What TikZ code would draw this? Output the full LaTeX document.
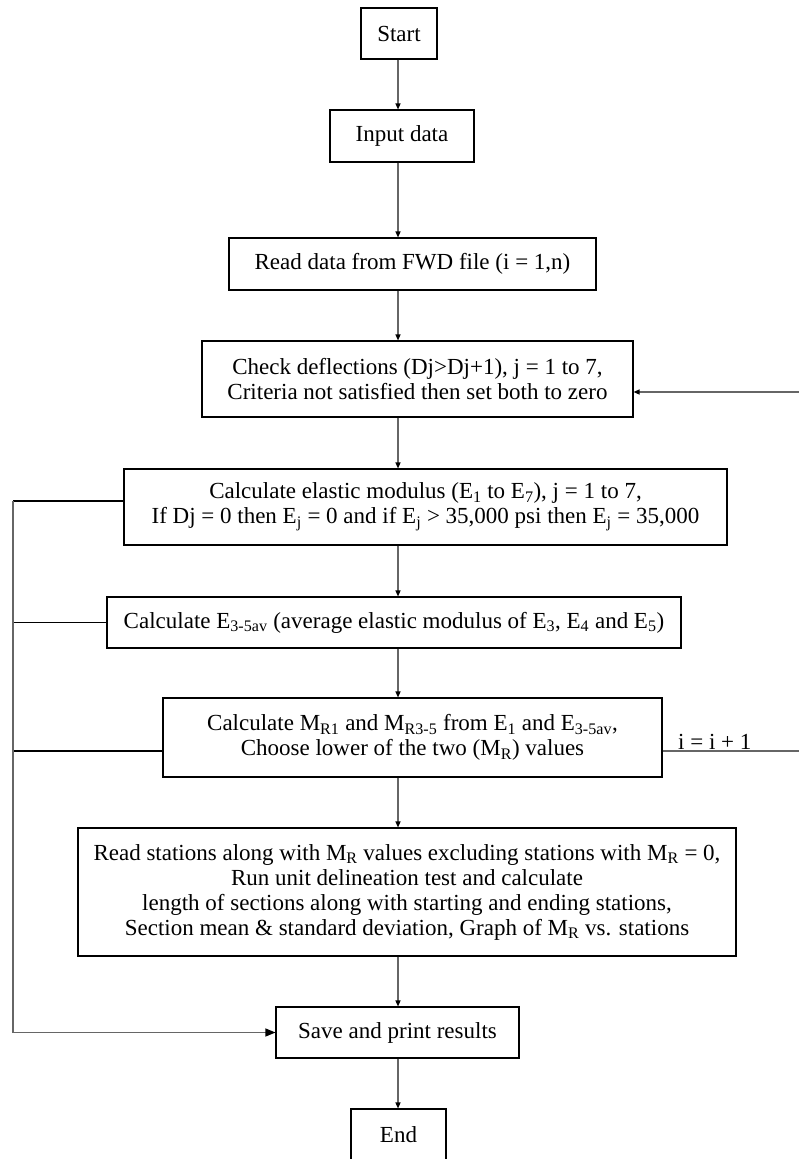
\documentclass[tikz,border=0pt]{standalone}
\usepackage{fontspec}
\setmainfont{Liberation Serif}
\usetikzlibrary{arrows.meta}
\begin{document}
\begin{tikzpicture}[x=1pt,y=-1pt,
  box/.style={draw=black,line width=1.1pt,inner sep=0pt,align=center,font=\fontsize{23}{25}\selectfont},
  flow/.style={draw=black!60,line width=1.2pt,-{Triangle[length=6pt,width=5pt,fill=black,color=black]}},
  bigflow/.style={draw=black!60,line width=1.2pt,-{Triangle[length=10pt,width=8pt,fill=black,color=black]}},
  link/.style={draw=black,line width=1.1pt},
  lbl/.style={inner sep=1pt,font=\fontsize{23}{25}\selectfont}]
\useasboundingbox (0,0) rectangle (799,1159);
\coordinate (col) at (398,0);
\coordinate (L) at (13,0);
\coordinate (R) at (800,0);

\node[box,minimum width=76pt,minimum height=51pt] (start) at (399,33.5) {Start};
\node[box,minimum width=144pt,minimum height=52pt] (input) at (402,136) {Input data};
\node[box,minimum width=367pt,minimum height=52pt] (read) at (412.5,264) {Read data from FWD file (i = 1,n)};
\node[box,minimum width=431pt,minimum height=76pt] (check) at (417.5,379) {Check deflections (Dj>Dj+1), j = 1 to 7,\\Criteria not satisfied then set both to zero};
\node[box,minimum width=603pt,minimum height=76pt] (calc) at (425.5,507) {Calculate elastic modulus (E\textsubscript{1} to E\textsubscript{7}), j = 1 to 7,\\If Dj = 0 then E\textsubscript{j} = 0 and if E\textsubscript{j} > 35,000 psi then E\textsubscript{j} = 35,000};
\node[box,minimum width=574pt,minimum height=51pt] (e35) at (394,622.5) {Calculate E\textsubscript{3-5av} (average elastic modulus of E\textsubscript{3}, E\textsubscript{4} and E\textsubscript{5})};
\node[box,minimum width=499pt,minimum height=79pt] (mr) at (412.5,737.5) {Calculate M\textsubscript{R1} and M\textsubscript{R3-5} from E\textsubscript{1} and E\textsubscript{3-5av},\\Choose lower of the two (M\textsubscript{R}) values};
\node[box,minimum width=658pt,minimum height=128pt] (rs) at (407,892) {Read stations along with M\textsubscript{R} values excluding stations with M\textsubscript{R} = 0,\\Run unit delineation test and calculate\\length of sections along with starting and ending stations,\\Section mean \& standard deviation, Graph of M\textsubscript{R} vs. stations};
\node[box,minimum width=243pt,minimum height=51pt] (save) at (397.5,1032.5) {Save and print results};
\node[box,minimum width=95pt,minimum height=54pt] (end) at (398.5,1136) {\raisebox{3pt}{End}};

\coordinate (checke) at (check.east |- 0,392);
\coordinate (calcw) at (calc.west |- 0,501);
\coordinate (mre) at (mr.east |- 0,751);
\coordinate (mrw) at (mr.west |- 0,751);

\draw[flow] (start.south -| col) -- (input.north -| col);
\draw[flow] (input.south -| col) -- (read.north -| col);
\draw[flow] (read.south -| col) -- (check.north -| col);
\draw[flow] (check.south -| col) -- (calc.north -| col);
\draw[flow] (calc.south -| col) -- (e35.north -| col);
\draw[flow] (e35.south -| col) -- (mr.north -| col);
\draw[flow] (mr.south -| col) -- (rs.north -| col);
\draw[flow] (rs.south -| col) -- (save.north -| col);
\draw[flow] (save.south -| col) -- (end.north -| col);

\draw[link] (calcw) -- (calcw -| L);
\draw[link] (e35.west) -- (e35.west -| L);
\draw[link] (mrw) -- (mrw -| L);
\draw[bigflow] (calcw -| L) -- (save.west -| L) -- (save.west);

\draw[flow] (mre) -- node[lbl,pos=0,anchor=south west,xshift=14pt] {i = i + 1} (mre -| R) -- (checke -| R) -- (checke);
\end{tikzpicture}
\end{document}
